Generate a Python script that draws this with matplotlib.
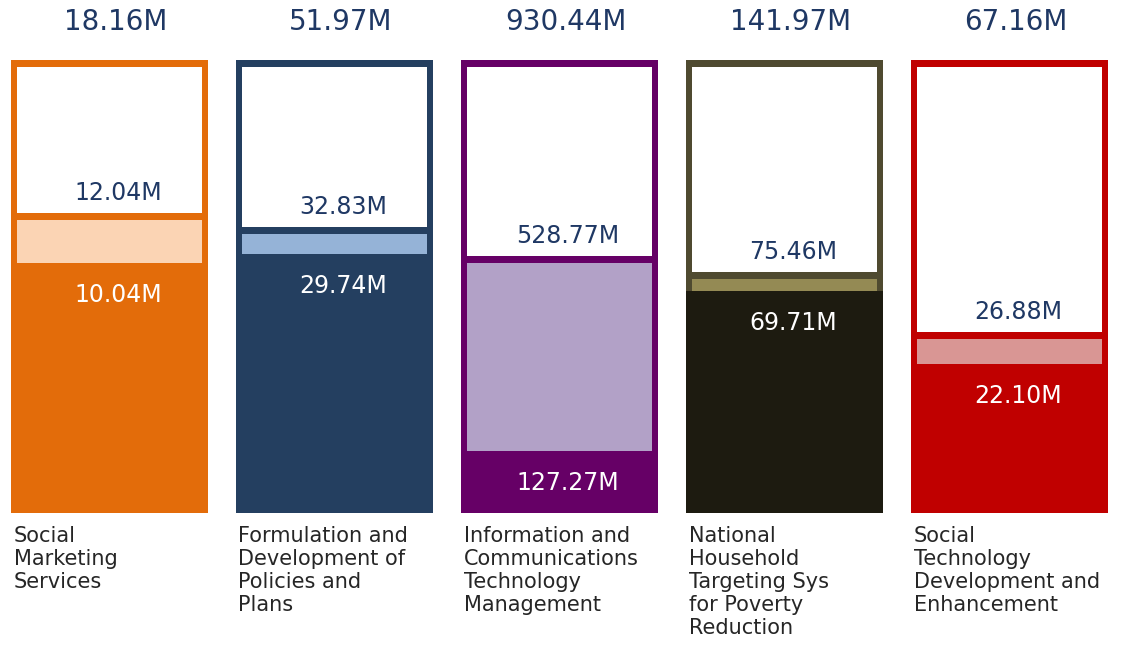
import matplotlib
matplotlib.use("Agg")
import matplotlib.pyplot as plt
import numpy as np

# values in millions
programs = [
    "Social\nMarketing\nServices",
    "Formulation and\nDevelopment of\nPolicies and\nPlans",
    "Information and\nCommunications\nTechnology\nManagement",
    "National\nHousehold\nTargeting Sys\nfor Poverty\nReduction",
    "Social\nTechnology\nDevelopment and\nEnhancement",
]
appropriation = [18.16, 51.97, 930.44, 141.97, 67.16]
obligations = [12.04, 32.83, 528.77, 75.46, 26.88]
disbursements = [10.04, 29.74, 127.27, 69.71, 22.10]

dark_colors = ["#E36C0A", "#243F60", "#660066", "#1D1B10", "#C00000"]
border_colors = ["#E36C0A", "#243F60", "#660066", "#4F4A30", "#C00000"]
light_colors = ["#FBD4B4", "#95B3D7", "#B2A1C7", "#948A54", "#D99694"]

navy = "#1F3864"

fig = plt.figure(figsize=(11.44, 6.55), dpi=100)
ax = fig.add_axes([0, (655 - 513) / 655, 1, 453 / 655])
spacing = 225
x = np.arange(len(programs))
ax.set_xlim(-109 / spacing, (1144 - 109) / spacing)
ax.set_ylim(0, 1)
ax.axis("off")

w = 197 / spacing
gx = 6 / spacing
gy = 7 / 453

for i in range(len(programs)):
    tot = appropriation[i]
    obl = obligations[i] / tot
    dis = disbursements[i] / tot
    # outer frame
    ax.bar(x[i], 1, width=w, bottom=0, color=border_colors[i])
    # unobligated (white)
    ax.bar(x[i], 1 - gy - obl, width=w - 2 * gx, bottom=obl, color="white")
    # obligated but not disbursed
    ax.bar(x[i], obl - gy - dis, width=w - 2 * gx, bottom=dis, color=light_colors[i])
    # disbursed
    ax.bar(x[i], dis, width=w, bottom=0, color=dark_colors[i])

    ax.annotate(f"{appropriation[i]:.2f}M", (x[i], 1), xytext=(7, 38),
                textcoords="offset pixels", ha="center", va="center",
                fontsize=20, color=navy)
    ax.annotate(f"{obligations[i]:.2f}M", (x[i], obl), xytext=(9, 20),
                textcoords="offset pixels", ha="center", va="center",
                fontsize=17, color=navy)
    ax.annotate(f"{disbursements[i]:.2f}M", (x[i], dis), xytext=(9, -32),
                textcoords="offset pixels", ha="center", va="center",
                fontsize=17, color="white")
    ax.annotate(programs[i], (x[i] - w / 2, 0), xytext=(3, -13),
                textcoords="offset pixels", ha="left", va="top",
                fontsize=15, color="#262626", linespacing=1.18,
                annotation_clip=False)

fig.savefig("out.png", dpi=100, facecolor="white")
